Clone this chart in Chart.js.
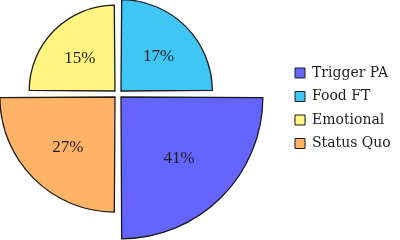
<!DOCTYPE html>
<html>
<head>
<meta charset="utf-8">
<script src="https://cdn.jsdelivr.net/npm/chart.js@4/dist/chart.umd.min.js"></script>
<style>
  html, body { margin: 0; padding: 0; background: #fff; }
  #wrap { width: 400px; height: 240px; }
</style>
</head>
<body>
<div id="wrap"><canvas id="chart" width="400" height="240"></canvas></div>
<script>
// shares in legend order
var labels = ['Trigger PA', 'Food FT', 'Emotional', 'Status Quo'];
var shares = [41, 17, 15, 27];
var colors = ['#6464ff', '#40c6f5', '#fff580', '#ffb366'];
// clockwise drawing order starting at 3 o'clock
var drawOrder = [0, 3, 2, 1];

var wedgeOffset = 17; // arcs get pushed out (and grown) by offset/4

// radial scale where the area (not the radius) grows with the value
class SqrtRadialScale extends Chart.RadialLinearScale {
    getDistanceFromCenterForValue(value) {
        if (value === null || isNaN(value)) return NaN;
        var t = Math.max(value - this.min, 0) / (this.max - this.min);
        // the arc element adds offset/4 to its radius, take it back here
        return Math.max(this.drawingArea * Math.sqrt(t) - wedgeOffset / 4, 0);
    }
}
SqrtRadialScale.id = 'radialSqrt';
SqrtRadialScale.defaults = Chart.RadialLinearScale.defaults;
Chart.register(SqrtRadialScale);

var serif = "'DejaVu Serif', 'Liberation Serif', serif";

// percentage text inside each wedge
var sliceLabels = {
    id: 'sliceLabels',
    afterDatasetsDraw(chart) {
        var ctx = chart.ctx;
        var meta = chart.getDatasetMeta(0);
        ctx.save();
        ctx.font = "17px 'Liberation Serif', serif";
        ctx.fillStyle = '#1e1e1e';
        ctx.textAlign = 'center';
        ctx.textBaseline = 'middle';
        meta.data.forEach(function(arc, i) {
            var p = arc.getProps(['x', 'y', 'startAngle', 'endAngle', 'outerRadius'], true);
            var mid = (p.startAngle + p.endAngle) / 2;
            var r = p.outerRadius + wedgeOffset / 4;
            var d = wedgeOffset / 4 + r * 0.58;
            ctx.fillText(shares[drawOrder[i]] + '%', p.x + Math.cos(mid) * d, p.y + Math.sin(mid) * d + 3);
        });
        ctx.restore();
    }
};

new Chart(document.getElementById('chart'), {
    type: 'polarArea',
    data: {
        labels: drawOrder.map(function(i) { return labels[i]; }),
        datasets: [{
            data: drawOrder.map(function(i) { return shares[i]; }),
            backgroundColor: drawOrder.map(function(i) { return colors[i]; }),
            borderColor: '#1a1a1a',
            borderWidth: 1.3,
            borderJoinStyle: 'miter',
            offset: wedgeOffset,
            clip: false
        }]
    },
    options: {
        responsive: false,
        animation: false,
        layout: { padding: { left: 0, right: 5, top: 0, bottom: 52 } },
        scales: {
            r: { type: 'radialSqrt', display: false, min: 0, max: 18, startAngle: 90 }
        },
        plugins: {
            tooltip: { enabled: false },
            // empty spacer between the wedges and the legend
            subtitle: {
                display: true, text: '', position: 'right', weight: 500, fullSize: false,
                font: { size: 10 }, padding: { top: 0, bottom: 37.5 }
            },
            legend: {
                position: 'right',
                maxWidth: 109.5,
                title: { display: true, text: '', font: { size: 10 }, padding: { top: 16.5, bottom: 0 } },
                labels: {
                    boxWidth: 10,
                    boxHeight: 10,
                    padding: 9.5,
                    color: '#1e1e1e',
                    font: { family: serif, size: 14 },
                    sort: function(a, b) {
                        return labels.indexOf(a.text) - labels.indexOf(b.text);
                    },
                    generateLabels: function(chart) {
                        var items = Chart.PolarAreaController.overrides.plugins.legend.labels.generateLabels(chart);
                        items.forEach(function(it) { it.strokeStyle = '#1a1a1a'; it.lineWidth = 1; });
                        return items;
                    }
                }
            }
        }
    },
    plugins: [sliceLabels]
});
</script>
</body>
</html>
